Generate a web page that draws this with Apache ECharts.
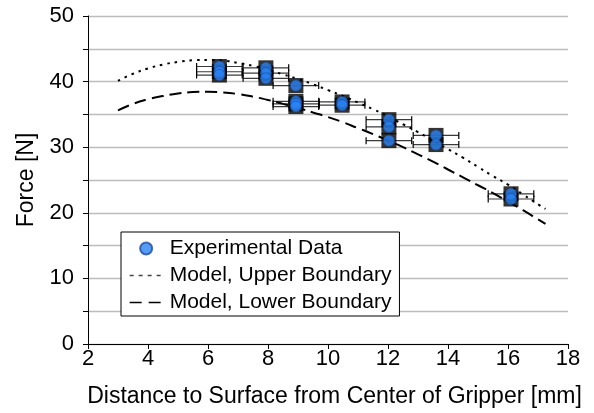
<!DOCTYPE html>
<html>
<head>
<meta charset="utf-8">
<script src="https://cdn.jsdelivr.net/npm/echarts@6/dist/echarts.min.js"></script>
<style>
html,body{margin:0;padding:0;background:#fff;}
#chart{width:594px;height:413px;}
</style>
</head>
<body>
<div id="chart"></div>
<script>
// Experimental data (distance in mm, force in N)
const distance = [6.38, 6.38, 6.38, 7.93, 7.93, 7.93, 8.93, 8.93, 8.93, 8.93, 10.47, 10.47, 12.03, 12.03, 12.03, 13.6, 13.6, 16.1, 16.1];
const force    = [42.3, 41.5, 41.0, 42.1, 41.3, 40.5, 39.4, 37.0, 36.6, 36.2, 36.9, 36.4, 34.2, 33.1, 31.0, 31.8, 30.4, 22.9, 22.1];
const distanceError = 0.76;

// Model curves
const modelDistance = [3, 3.5, 4, 4.5, 5, 5.5, 6, 6.5, 7, 7.5, 8, 8.5, 9, 9.5, 10, 10.5, 11, 11.5, 12, 12.5, 13, 13.5, 14, 14.5, 15, 15.5, 16, 16.5, 17, 17.25];
const upperForce = [40.1, 41.2, 42.0, 42.6, 43.0, 43.25, 43.3, 43.2, 42.85, 42.4, 41.8, 41.1, 40.4, 39.6, 38.7, 37.8, 36.8, 35.8, 34.7, 33.5, 32.3, 31.0, 29.7, 28.4, 27.0, 25.6, 24.3, 22.8, 21.3, 20.6];
const lowerForce = [35.6, 36.6, 37.3, 37.8, 38.2, 38.4, 38.45, 38.35, 38.1, 37.7, 37.2, 36.6, 36.0, 35.3, 34.6, 33.8, 32.9, 32.0, 31.0, 30.0, 28.9, 27.8, 26.6, 25.4, 24.2, 23.0, 21.7, 20.4, 19.0, 18.3];

// Axis ticks
const xTicks = [2, 4, 6, 8, 10, 12, 14, 16, 18];
const yTicks = [0, 10, 20, 30, 40, 50];

const seriesNames = ['Experimental Data', 'Model, Upper Boundary', 'Model, Lower Boundary'];

const points = distance.map((d, i) => [d, force[i]]);
const upperData = modelDistance.map((d, i) => [d, upperForce[i]]);
const lowerData = modelDistance.map((d, i) => [d, lowerForce[i]]);

const FONT = 'Liberation Sans, Arial, sans-serif';
const chart = echarts.init(document.getElementById('chart'), null, {renderer: 'canvas'});

const hiddenSymbol = {color: 'rgba(0,0,0,0)', borderColor: 'rgba(0,0,0,0)', borderWidth: 0};

chart.setOption({
  animation: false,
  backgroundColor: '#fff',
  grid: {left: 88, right: 26, top: 16, bottom: 68, containLabel: false},
  xAxis: {
    type: 'value',
    min: xTicks[0], max: xTicks[xTicks.length - 1], interval: 2,
    name: 'Distance to Surface from Center of Gripper [mm]',
    nameLocation: 'middle', nameGap: 41,
    nameTextStyle: {fontFamily: FONT, fontSize: 23, color: '#000', padding: [0, 0, 0, 13]},
    axisLine: {show: true, onZero: false, lineStyle: {color: '#000', width: 1}},
    axisTick: {show: true, inside: false, length: 5, lineStyle: {color: '#000'}},
    axisLabel: {fontFamily: FONT, fontSize: 22, color: '#000', margin: 4,
      formatter: v => xTicks.includes(v) ? String(v) : ''},
    splitLine: {show: false}
  },
  yAxis: {
    type: 'value',
    min: 0, max: 50, interval: 5,
    name: 'Force [N]',
    nameLocation: 'middle', nameGap: 48,
    nameTextStyle: {fontFamily: FONT, fontSize: 23, color: '#000'},
    axisLine: {show: true, onZero: false, lineStyle: {color: '#000', width: 1}},
    axisTick: {show: true, inside: false, length: 5, lineStyle: {color: '#000'}},
    axisLabel: {fontFamily: FONT, fontSize: 22, color: '#000', margin: 14,
      formatter: v => yTicks.includes(v) ? String(v) : ''},
    splitLine: {show: true, lineStyle: {color: '#bdbdbd', width: 1.3}}
  },
  legend: {
    orient: 'vertical',
    left: 121, top: 232,
    padding: [6, 8, 3, 8],
    itemGap: 6,
    itemWidth: 33, itemHeight: 12,
    backgroundColor: '#fff',
    borderColor: '#000', borderWidth: 1, borderRadius: 0,
    textStyle: {fontFamily: FONT, fontSize: 21, color: '#000', padding: [0, 0, 0, 2]},
    data: [
      {name: seriesNames[0], icon: 'circle'},
      {name: seriesNames[1], itemStyle: hiddenSymbol, lineStyle: {color: '#444', width: 1.3, type: [4, 5]}},
      {name: seriesNames[2], itemStyle: hiddenSymbol, lineStyle: {color: '#000', width: 1.3, type: [12, 7]}}
    ]
  },
  series: [
    {
      name: 'errorbars',
      type: 'custom',
      z: 1,
      silent: true,
      data: points,
      renderItem: function (params, api) {
        const x = api.value(0), y = api.value(1);
        const p1 = api.coord([x - distanceError, y]);
        const p2 = api.coord([x + distanceError, y]);
        const cap = 3.5;
        const style = {stroke: '#3a3a3a', lineWidth: 1.2};
        return {
          type: 'group',
          children: [
            {type: 'line', shape: {x1: p1[0], y1: p1[1], x2: p2[0], y2: p2[1]}, style: style},
            {type: 'line', shape: {x1: p1[0], y1: p1[1] - cap, x2: p1[0], y2: p1[1] + cap}, style: {stroke: '#000', lineWidth: 1.2}},
            {type: 'line', shape: {x1: p2[0], y1: p2[1] - cap, x2: p2[0], y2: p2[1] + cap}, style: {stroke: '#000', lineWidth: 1.2}}
          ]
        };
      }
    },
    {
      name: seriesNames[1],
      type: 'line',
      z: 2,
      data: upperData,
      smooth: true,
      symbol: 'none',
      color: '#000',
      lineStyle: {color: '#000', width: 2, type: [2.5, 5]}
    },
    {
      name: seriesNames[2],
      type: 'line',
      z: 2,
      data: lowerData,
      smooth: true,
      symbol: 'none',
      color: '#000',
      lineStyle: {color: '#000', width: 2, type: [12, 6]}
    },
    {
      name: 'marker-back',
      type: 'scatter',
      z: 3,
      silent: true,
      data: points,
      symbol: 'rect',
      symbolSize: [15, 15],
      itemStyle: {color: '#000'}
    },
    {
      name: seriesNames[0],
      type: 'scatter',
      z: 4,
      data: points,
      symbol: 'circle',
      symbolSize: 11,
      color: '#2b83f6',
      itemStyle: {color: '#2b83f6', borderColor: '#1b4f9c', borderWidth: 0.8}
    }
  ]
});
</script>
</body>
</html>
